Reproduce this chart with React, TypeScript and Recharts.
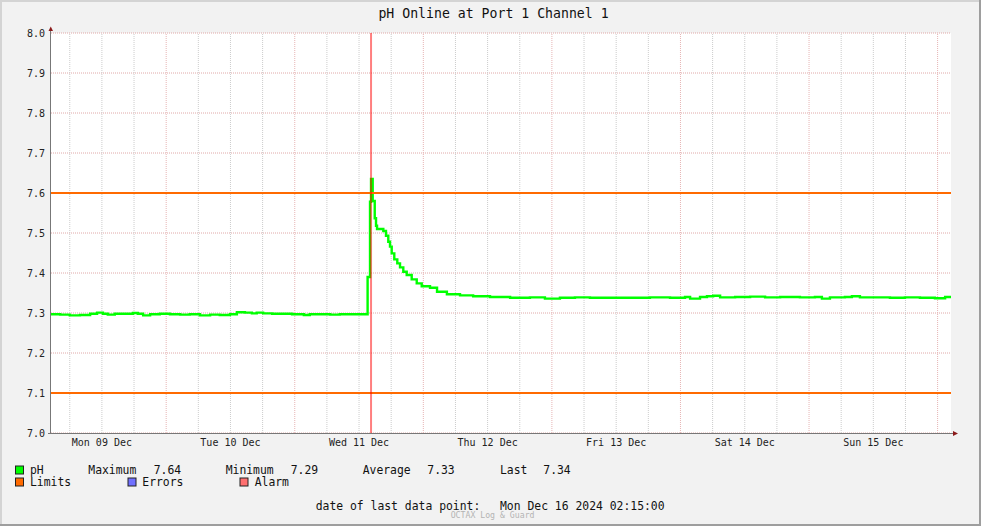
import {
  LineChart,
  Line,
  XAxis,
  YAxis,
  CartesianGrid,
  ReferenceLine,
} from "recharts";

// hours since Mon 09 Dec 00:00
const hours = [
  2.5, 4.2, 6.0, 7.9, 9.8, 11.1, 12.2, 13.1, 14.4, 16.3, 17.8, 18.7, 19.7, 21.0,
  22.8, 24.7, 26.6, 28.4, 30.3, 32.2, 34.0, 35.9, 37.2, 38.7, 40.0, 40.9, 42.1,
  43.8, 45.6, 47.5, 49.0, 49.7, 50.8, 52.7, 54.6, 56.4, 58.3, 60.2, 61.6, 62.05,
  62.24, 62.55, 62.93, 63.17, 63.36, 64.53, 65.03, 65.46, 65.78, 66.1, 66.58,
  67.14, 67.65, 68.26, 68.9, 69.83, 70.77, 71.7, 73.25, 74.56, 76.4, 78.85, 81.3,
  84.45, 88.2, 91.9, 94.7, 97.5, 100.3, 103.1, 106.85, 110.6, 114.3, 118.05,
  120.85, 121.8, 123.65, 124.95, 126.1, 127.4, 130.2, 133.0, 135.8, 138.6, 142.3,
  145.1, 146.4, 147.9, 150.7, 152.0, 153.5, 156.3, 159.1, 161.9, 164.7, 167.5,
  169.4, 170.5,
];

const phValues = [
  7.297, 7.296, 7.294, 7.295, 7.298, 7.301, 7.298, 7.296, 7.298, 7.298, 7.3,
  7.298, 7.294, 7.297, 7.298, 7.297, 7.296, 7.297, 7.294, 7.296, 7.295, 7.297,
  7.302, 7.301, 7.299, 7.301, 7.299, 7.298, 7.298, 7.297, 7.297, 7.295, 7.297,
  7.297, 7.296, 7.297, 7.297, 7.297, 7.39, 7.578, 7.635, 7.58, 7.537, 7.518,
  7.51, 7.505, 7.493, 7.478, 7.466, 7.449, 7.434, 7.424, 7.414, 7.403, 7.395,
  7.384, 7.374, 7.367, 7.363, 7.353, 7.347, 7.344, 7.342, 7.34, 7.338, 7.339,
  7.336, 7.338, 7.339, 7.338, 7.338, 7.338, 7.339, 7.338, 7.34, 7.336, 7.34,
  7.342, 7.343, 7.339, 7.34, 7.341, 7.339, 7.34, 7.339, 7.34, 7.336, 7.339, 7.34,
  7.342, 7.339, 7.339, 7.338, 7.339, 7.338, 7.337, 7.34, 7.341,
];

const dayTicks = [12, 36, 60, 84, 108, 132, 156];
const dayLabels = [
  "Mon 09 Dec",
  "Tue 10 Dec",
  "Wed 11 Dec",
  "Thu 12 Dec",
  "Fri 13 Dec",
  "Sat 14 Dec",
  "Sun 15 Dec",
];
const yTicks = [7.0, 7.1, 7.2, 7.3, 7.4, 7.5, 7.6, 7.7, 7.8, 7.9, 8.0];
const majorGridHours = [24, 48, 72, 96, 120, 144, 168];
const minorGridHours = [
  6, 12, 18, 30, 36, 42, 54, 60, 66, 78, 84, 90, 102, 108, 114, 126, 132, 138,
  150, 156, 162,
];
const limits = [7.6, 7.1];
const alarmHour = 62.24;

const data = hours.map((h, i) => ({ h, ph: phValues[i] }));

const FONT = "'DejaVu Sans Mono', monospace";

const XTick = (props: any) => {
  const { x, payload } = props;
  const idx = dayTicks.indexOf(payload.value);
  return (
    <text x={x} y={446} textAnchor="middle" fontSize={10} fontFamily={FONT} fill="#222">
      {dayLabels[idx]}
    </text>
  );
};

const YTick = (props: any) => {
  const { y, payload } = props;
  return (
    <text x={45} y={y} textAnchor="end" dominantBaseline="central" fontSize={10} fontFamily={FONT} fill="#222">
      {Number(payload.value).toFixed(1)}
    </text>
  );
};

const Swatch = ({ x, y, color }: { x: number; y: number; color: string }) => (
  <rect x={x + 0.5} y={y + 0.5} width={8} height={8} fill={color} stroke="#222" strokeWidth={1} />
);

const App = () => {
  return (
    <div
      style={{
        position: "absolute",
        left: 0,
        top: 0,
        width: 981,
        height: 526,
        background: "#f2f2f2",
        fontFamily: FONT,
      }}>
      <LineChart
        width={981}
        height={526}
        data={data}
        margin={{ top: 33, right: 30, bottom: 0, left: 0 }}>
        <CartesianGrid
          fill="#ffffff"
          vertical={false}
          stroke="#e0a8a8"
          strokeDasharray="1 1"
        />
        {minorGridHours.map((h) => (
          <ReferenceLine key={`mi${h}`} x={h} stroke="#cccccc" strokeDasharray="1 1" />
        ))}
        {majorGridHours.map((h) => (
          <ReferenceLine key={`ma${h}`} x={h} stroke="#e6b4b4" strokeDasharray="1 1" />
        ))}
        <XAxis
          dataKey="h"
          type="number"
          domain={[2.5, 170.5]}
          ticks={dayTicks}
          tick={<XTick />}
          axisLine={false}
          tickLine={false}
          height={93}
          allowDataOverflow
        />
        <YAxis
          type="number"
          domain={[7, 8]}
          ticks={yTicks}
          tick={<YTick />}
          axisLine={false}
          tickLine={false}
          width={51}
          allowDataOverflow
        />
        <Line
          dataKey="ph"
          type="stepAfter"
          stroke="#00ff00"
          strokeWidth={2.4}
          dot={false}
          isAnimationActive={false}
        />
        {limits.map((v) => (
          <ReferenceLine key={`l${v}`} y={v} stroke="#ff6a00" strokeWidth={2} />
        ))}
        <ReferenceLine x={alarmHour} stroke="#ff0000" strokeOpacity={0.5} strokeWidth={2} />
      </LineChart>
      <svg
        width={981}
        height={526}
        style={{ position: "absolute", left: 0, top: 0, pointerEvents: "none" }}>
        {/* frame */}
        <line x1={0} y1={1} x2={981} y2={1} stroke="#d4d4d4" strokeWidth={2} />
        <line x1={1} y1={0} x2={1} y2={526} stroke="#d4d4d4" strokeWidth={2} />
        <line x1={980} y1={0} x2={980} y2={526} stroke="#9e9e9e" strokeWidth={2} />
        <line x1={0} y1={525} x2={981} y2={525} stroke="#9e9e9e" strokeWidth={2} />
        {/* axes */}
        <line x1={50.5} y1={433} x2={50.5} y2={29} stroke="#777" strokeWidth={1} />
        <line x1={48} y1={433.5} x2={954} y2={433.5} stroke="#777" strokeWidth={1} />
        <polygon points="48.5,31 53,31 50.75,26.5" fill="#8b1a1a" />
        <polygon points="953,431 953,436 958,433.5" fill="#8b1a1a" />
        <text x={493.5} y={17.7} textAnchor="middle" fontSize={13.2} fontFamily={FONT} fill="#111">
          pH Online at Port 1 Channel 1
        </text>
        {/* legend */}
        <g fontSize={11.4} fontFamily={FONT} fill="#111">
          <Swatch x={15} y={465.5} color="#00ff00" />
          <text x={30} y={474.2}>pH</text>
          <text x={88.3} y={474.2}>Maximum</text>
          <text x={153.7} y={474.2}>7.64</text>
          <text x={225.7} y={474.2}>Minimum</text>
          <text x={290.7} y={474.2}>7.29</text>
          <text x={362.7} y={474.2}>Average</text>
          <text x={427.3} y={474.2}>7.33</text>
          <text x={500} y={474.2}>Last</text>
          <text x={543.3} y={474.2}>7.34</text>
          <Swatch x={15} y={477.5} color="#ff6a00" />
          <text x={30} y={486.2}>Limits</text>
          <Swatch x={127.5} y={477.5} color="#7070ff" />
          <text x={142.3} y={486.2}>Errors</text>
          <Swatch x={239.5} y={477.5} color="#ff7070" />
          <text x={254.7} y={486.2}>Alarm</text>
          <text x={315.7} y={510}>date of last data point:</text>
          <text x={500} y={510}>Mon Dec 16 2024 02:15:00</text>
        </g>
        <text x={450.7} y={517.5} fontSize={8.2} fontFamily={FONT} fill="#b4b4b4">
          OCTAX Log &amp; Guard
        </text>
      </svg>
    </div>
  );
};

export default App;
